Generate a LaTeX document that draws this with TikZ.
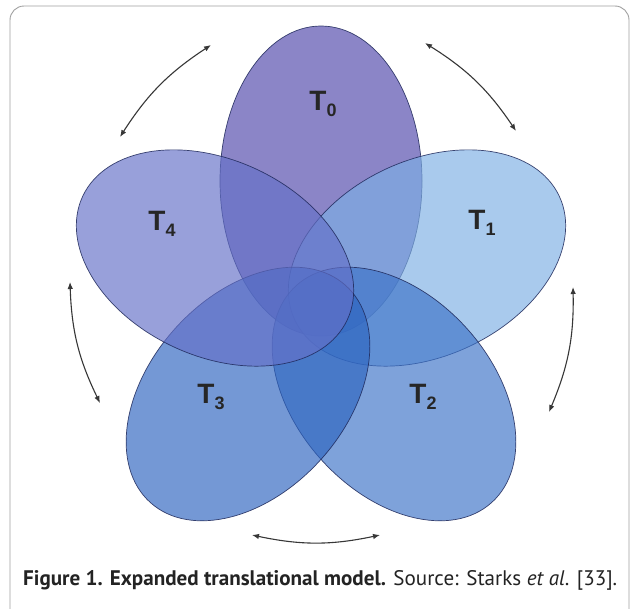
\documentclass[tikz,border=0pt]{standalone}
\usepackage{fontspec}
\setmainfont{Liberation Sans}
\newfontfamily\capfont{PT Sans}
\usetikzlibrary{arrows.meta}
\definecolor{cT0}{RGB}{80,70,170}
\definecolor{cT1}{RGB}{125,175,228}
\definecolor{cT2}{RGB}{60,115,200}
\definecolor{cT3}{RGB}{45,100,192}
\definecolor{cT4}{RGB}{100,112,200}
\definecolor{edge}{RGB}{30,40,90}
\definecolor{arrowc}{RGB}{55,55,55}
\definecolor{framec}{RGB}{160,160,160}
\definecolor{capc}{RGB}{35,35,35}
\tikzset{
  petal/.style={fill=#1, fill opacity=0.66, draw=edge, draw opacity=0.85, line width=0.7pt},
  turn/.style={draw=arrowc, line width=1.1pt, {Latex[length=7pt,width=5.5pt]}-{Latex[length=7pt,width=5.5pt]}},
  lbl/.style={text=black!85, font=\bfseries\fontsize{28}{28}\selectfont, inner sep=0pt}
}
\newcommand{\lab}[1]{T\raisebox{-6pt}{\fontsize{18}{18}\selectfont #1}}
\begin{document}
\begin{tikzpicture}[x=1pt,y=1pt]
\useasboundingbox (0,0) rectangle (631,-608);
\clip (0,0) rectangle (631,-608);
\fill[white] (0,0) rectangle (631,-608);
\draw[framec, line width=0.9pt, rounded corners=14pt] (10,-6) rectangle (629,-625);
% petals
\path[petal=cT0, shift={(321,-181)}] (0,0) ellipse[x radius=101, y radius=155];
\path[petal=cT1, shift={(427,-258)}, rotate=-65] (0,0) ellipse[x radius=98, y radius=146];
\path[petal=cT2, shift={(394,-394)}, rotate=-138] (0,0) ellipse[x radius=98, y radius=146];
\path[petal=cT3, shift={(248,-394)}, rotate=138] (0,0) ellipse[x radius=98, y radius=146];
\path[petal=cT4, shift={(215,-258)}, rotate=65] (0,0) ellipse[x radius=98, y radius=146];
% labels
\node[lbl] (t0) at (323,-104) {\lab{0}};
\node[lbl] (t1) at (482,-223) {\lab{1}};
\node[lbl] (t2) at (423,-397) {\lab{2}};
\node[lbl] (t3) at (211,-397) {\lab{3}};
\node[lbl] (t4) at (162,-224) {\lab{4}};
% arrows
\coordinate (a1s) at (120,-137);
\coordinate (a1e) at (211,-45);
\coordinate (a2s) at (425,-43);
\coordinate (a2e) at (516,-131);
\coordinate (a3s) at (573,-287);
\coordinate (a3e) at (549,-412);
\coordinate (a4s) at (380,-535);
\coordinate (a4e) at (252,-535);
\coordinate (a5s) at (100,-403);
\coordinate (a5e) at (70,-282);
\draw[turn] (a1s) to[bend left=12] (a1e);
\draw[turn] (a2s) to[bend left=12] (a2e);
\draw[turn] (a3s) to[bend left=12] (a3e);
\draw[turn] (a4s) to[bend left=12] (a4e);
\draw[turn] (a5s) to[bend left=12] (a5e);
% caption
\node[anchor=base west, inner sep=0pt, text=capc] (cap) at (23,-585)
  {\resizebox{594pt}{!}{\capfont\fontsize{18}{18}\selectfont\textbf{Figure 1. Expanded translational model.} Source: Starks \textit{et al}. [33].}};
\end{tikzpicture}
\end{document}
